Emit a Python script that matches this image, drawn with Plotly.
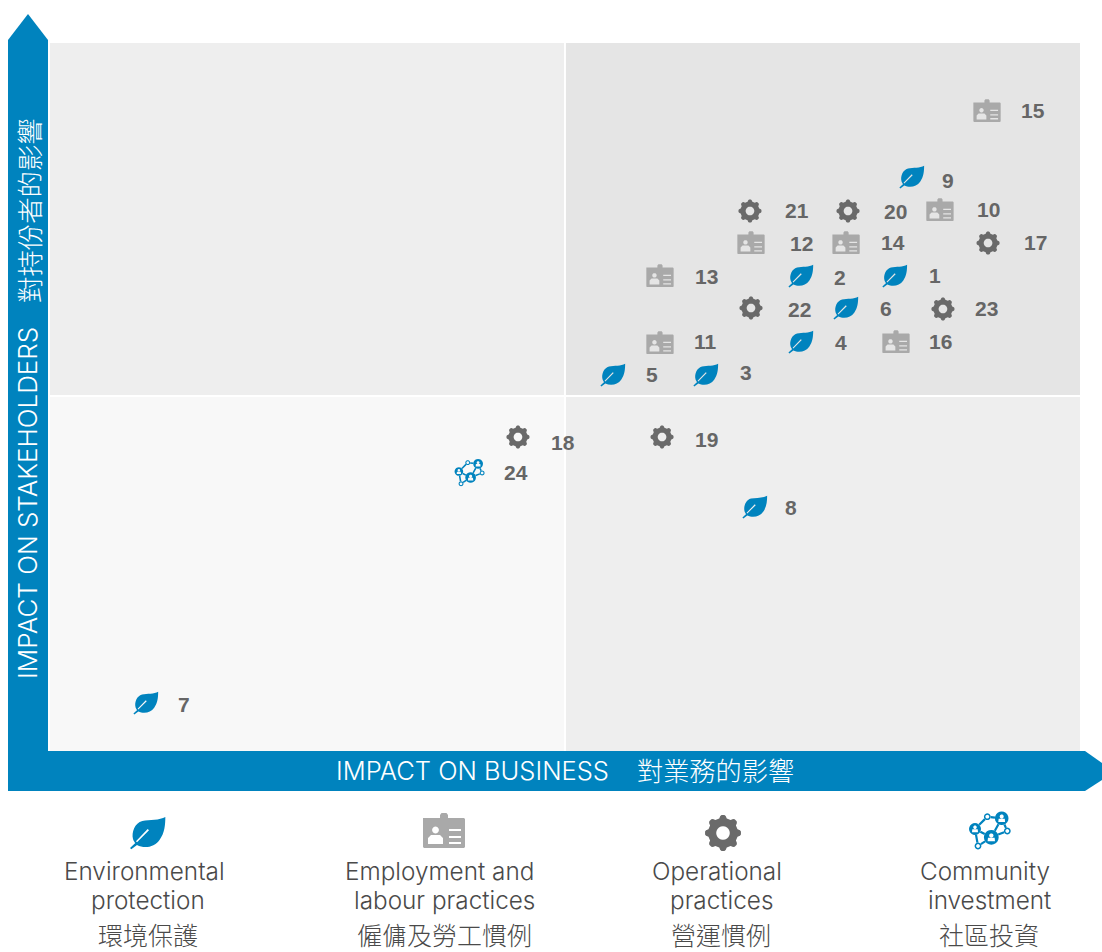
import math
import plotly.graph_objects as go

W, H = 1102, 952

# ---- data: impact on business (x) / impact on stakeholders (y), 0-100 scale ----
ENV_IDS = [1, 2, 3, 4, 5, 6, 7, 8, 9]
ENV_X = [82.07, 72.97, 63.76, 72.97, 54.75, 77.33, 9.50, 68.51, 83.72]
ENV_Y = [67.09, 67.09, 53.11, 57.77, 53.11, 62.57, 6.78, 34.46, 81.07]

EMP_IDS = [10, 11, 12, 13, 14, 15, 16]
EMP_X = [86.43, 59.30, 68.12, 59.30, 77.33, 90.99, 82.17]
EMP_Y = [76.41, 57.63, 71.75, 67.09, 71.75, 90.40, 57.77]

OPS_IDS = [17, 18, 19, 20, 21, 22, 23]
OPS_X = [91.09, 45.54, 59.50, 77.52, 68.02, 68.12, 86.72]
OPS_Y = [71.75, 44.35, 44.35, 76.27, 76.27, 62.57, 62.43]

COM_IDS = [24]
COM_X = [40.79]
COM_Y = [39.27]

CATEGORY_EN = ["Environmental protection", "Employment and labour practices",
               "Operational practices", "Community investment"]
X_TITLE_EN, X_TITLE_ZH = "IMPACT ON BUSINESS", "對業務的影響"
Y_TITLE_EN, Y_TITLE_ZH = "IMPACT ON STAKEHOLDERS", "對持份者的影響"

# ---- styling ----
BLUE = "#0083BE"
GEAR_GREY = "#6A6A6A"
BADGE_GREY = "#A9A9A9"
NUM_GREY = "#666666"
TXT = "#4A4A4A"
LATIN = "Inter, Liberation Sans, sans-serif"
CJK = "Noto Sans CJK TC"

# label shift from icon centre, pixels (dx right, dy up), by topic number
LABEL_SHIFT = {
    1: (40, 0), 2: (39, -2), 3: (40, 2), 4: (40, -1), 5: (39, 0), 6: (40, -1), 7: (38, -1),
    8: (36, 0), 9: (36, -3), 10: (49, 1), 11: (46, 1), 12: (50, 0), 13: (47, -1), 14: (47, 1),
    15: (46, 0), 16: (45, 0), 17: (47, 1), 18: (45, -6), 19: (44, -3), 20: (47, 0), 21: (47, 1),
    22: (48, -2), 23: (44, 0), 24: (47, 0),
}


def poly(pts):
    return "M" + "L".join(f"{x:.2f},{y:.2f}" for x, y in pts) + "Z"


def circle(cx, cy, r, n=20):
    return poly([(cx + r * math.cos(2 * math.pi * i / n), cy + r * math.sin(2 * math.pi * i / n))
                 for i in range(n)])


def leaf_path(s):
    def p(zx, zy):
        return f"{(zx - 85) / 3 * s:.2f},{-(zy - 80) / 3 * s:.2f}"
    return (f"M{p(137, 32)}C{p(120, 42)} {p(90, 40)} {p(68, 44)}C{p(45, 50)} {p(35, 78)} {p(40, 98)}"
            f"C{p(42, 105)} {p(45, 108)} {p(47, 110)}L{p(31, 125)}L{p(35, 129)}L{p(52, 116)}"
            f"C{p(75, 128)} {p(105, 122)} {p(120, 100)}C{p(135, 80)} {p(137, 55)} {p(137, 32)}Z"
            f"M{p(84, 68)}L{p(88, 72)}L{p(52, 108)}L{p(49, 105)}Z")


def gear_path(s):
    pts = []
    for k in range(8):
        a = math.radians(k * 45)
        for da, r in [(-14.5, 15), (-9, 17.2), (-4.5, 18), (4.5, 18), (9, 17.2), (14.5, 15)]:
            t = a + math.radians(da)
            pts.append((r * s * math.cos(t), r * s * math.sin(t)))
    return poly(pts) + circle(0, 0, 6.8 * s)


def badge_path(s):
    outline = [(-21, 13), (-4, 13), (-4, 16), (-2.5, 18), (2.5, 18), (4, 16), (4, 13), (20, 13),
               (21, 12), (21, -16), (20, -17), (-20, -17), (-21, -16), (-21, 12)]
    path = poly([(x * s, y * s) for x, y in outline])
    path += circle(-8.5 * s, 1 * s, 3.4 * s)
    shoulders = [(-16, -13), (-16, -7), (-13, -4), (-4, -4), (-1, -7), (-1, -13)]
    path += poly([(x * s, y * s) for x, y in shoulders])
    for y in (1, -6, -12):
        path += poly([(x * s, yy * s) for x, yy in [(5, y + 1), (17, y + 1), (17, y - 1), (5, y - 1)]])
    return path


def community_paths(s):
    big = [(-14, 2, 6), (2.3, -6.3, 7.4), (12.7, 12.7, 6.8)]
    small = [(-1.7, 14.3, 3.4), (18.3, 0, 3.4), (-11, -15, 3.4)]
    nodes = big + small
    links = [(0, 3), (3, 2), (2, 4), (4, 1), (1, 2), (0, 1), (0, 5), (1, 5)]
    solid = ""
    for x, y, r in big:
        solid += circle(x * s, y * s, r * s)
        solid += circle(x * s, (y + 1.8) * s, r * 0.3 * s, 10)
        solid += poly([((x - r * .5) * s, (y - r * .55) * s), ((x - r * .45) * s, (y - r * .05) * s),
                       ((x + r * .45) * s, (y - r * .05) * s), ((x + r * .5) * s, (y - r * .55) * s)])
    for x, y, r in small:
        solid += circle(x * s, y * s, r * s) + circle(x * s, y * s, (r - 1.5) * s)
    lines = ""
    for a, b in links:
        xa, ya, ra = nodes[a]
        xb, yb, rb = nodes[b]
        d = math.hypot(xb - xa, yb - ya)
        ux, uy = (xb - xa) / d, (yb - ya) / d
        lines += (f"M{(xa + ux * ra) * s:.2f},{(ya + uy * ra) * s:.2f}"
                  f"L{(xb - ux * rb) * s:.2f},{(yb - uy * rb) * s:.2f}")
    return solid, lines


def anchored(ref_x, ref_y, ax, ay, path, fill=None, line=None, lw=0):
    return dict(type="path", xref=ref_x, yref=ref_y, xsizemode="pixel", ysizemode="pixel",
                xanchor=ax, yanchor=ay, path=path, fillcolor=fill or "rgba(0,0,0,0)",
                line=dict(width=lw, color=line or "rgba(0,0,0,0)"), layer="above")


def icon_shapes(kind, rx, ry, ax, ay, s):
    if kind == "leaf":
        return [anchored(rx, ry, ax, ay, leaf_path(s), BLUE)]
    if kind == "gear":
        return [anchored(rx, ry, ax, ay, gear_path(s), GEAR_GREY)]
    if kind == "badge":
        return [anchored(rx, ry, ax, ay, badge_path(s), BADGE_GREY)]
    solid, lines = community_paths(s)
    return [anchored(rx, ry, ax, ay, lines, None, BLUE, 2.2 * s),
            anchored(rx, ry, ax, ay, solid, BLUE)]


def px(x):
    return x / W


def py(y):
    return 1 - y / H


shapes = []
# quadrants
for x0, x1, y0, y1, col in [(0.19, 50.0, 50.28, 100, "#EEEEEE"), (50.19, 100, 50.28, 100, "#E5E5E5"),
                            (0.19, 50.0, 0, 50.0, "#F8F8F8"), (50.19, 100, 0, 50.0, "#EEEEEE")]:
    shapes.append(dict(type="rect", xref="x", yref="y", x0=x0, x1=x1, y0=y0, y1=y1,
                       fillcolor=col, line=dict(width=0), layer="below"))

# axis arrows (paper coordinates)
up = [(8, 791), (8, 40), (28, 14), (48, 40), (48, 791)]
right = [(8, 751), (1085, 751), (1102, 763), (1102, 780), (1085, 791), (8, 791)]
for arrow in (up, right):
    shapes.append(dict(type="path", xref="paper", yref="paper",
                       path="M" + "L".join(f"{px(a):.6f},{py(b):.6f}" for a, b in arrow) + "Z",
                       fillcolor=BLUE, line=dict(width=0), layer="above"))

fig = go.Figure()
groups = [("leaf", CATEGORY_EN[0], ENV_IDS, ENV_X, ENV_Y, 0.70),
          ("badge", CATEGORY_EN[1], EMP_IDS, EMP_X, EMP_Y, 0.65),
          ("gear", CATEGORY_EN[2], OPS_IDS, OPS_X, OPS_Y, 0.64),
          ("community", CATEGORY_EN[3], COM_IDS, COM_X, COM_Y, 0.72)]

annotations = []
for kind, name, ids, xs, ys, s in groups:
    fig.add_trace(go.Scatter(x=xs, y=ys, mode="markers", name=name, text=[str(i) for i in ids],
                             marker=dict(size=24, opacity=0), showlegend=False,
                             hovertemplate=name + " %{text}<extra></extra>"))
    for i, x, y in zip(ids, xs, ys):
        shapes += icon_shapes(kind, "x", "y", x, y, s)
        dx, dy = LABEL_SHIFT[i]
        annotations.append(dict(x=x, y=y, xref="x", yref="y", text=str(i), showarrow=False,
                                xshift=dx, yshift=dy, xanchor="center", yanchor="middle",
                                font=dict(family="Liberation Sans", size=21, color=NUM_GREY, weight="bold")))


def note(x, y, text, family=LATIN, size=24.3, color=TXT, angle=0, weight=300):
    annotations.append(dict(x=px(x), y=py(y), xref="paper", yref="paper", text=text, showarrow=False,
                            xanchor="center", yanchor="middle", textangle=angle,
                            font=dict(family=family, size=size, color=color, weight=weight)))


note(472, 770, X_TITLE_EN, color="white", size=25.5)
note(715, 770, X_TITLE_ZH, CJK, color="white", size=26.2)
note(27, 503, Y_TITLE_EN, color="white", angle=-90, size=26)
note(28, 211, Y_TITLE_ZH, CJK, color="white", angle=-90, size=26.4)

# legend block
LEGEND_ROWS = [
    ("leaf", 148, 833, "Environmental", 144, "protection", 148, "環境保護", 148),
    ("badge", 444, 831, "Employment and", 440, "labour practices", 444, "僱傭及勞工慣例", 444),
    ("gear", 723, 833, "Operational", 717, "practices", 721, "營運慣例", 721),
    ("community", 989, 831, "Community", 985, "investment", 989, "社區投資", 989),
]
for kind, ix, iy, l1, x1, l2, x2, zh, x3 in LEGEND_ROWS:
    shapes += icon_shapes(kind, "paper", "paper", px(ix), py(iy), 1.0)
    note(x1, 871, l1)
    note(x2, 900, l2)
    note(x3, 933.5, zh, CJK, color=TXT, size=25)

fig.update_layout(
    width=W, height=H, margin=dict(l=0, r=0, t=0, b=0), paper_bgcolor="white", plot_bgcolor="white",
    xaxis=dict(domain=[48 / W, 1080 / W], range=[0, 100], visible=False, fixedrange=True),
    yaxis=dict(domain=[1 - 751 / H, 1 - 43 / H], range=[0, 100], visible=False, fixedrange=True),
    shapes=shapes, annotations=annotations, showlegend=False,
)
# the page's default body margin would push the figure 8px right and down
fig.write_html("out.html", post_script="document.body.style.margin='0';document.body.style.overflow='hidden';",
               config={"displayModeBar": False})
